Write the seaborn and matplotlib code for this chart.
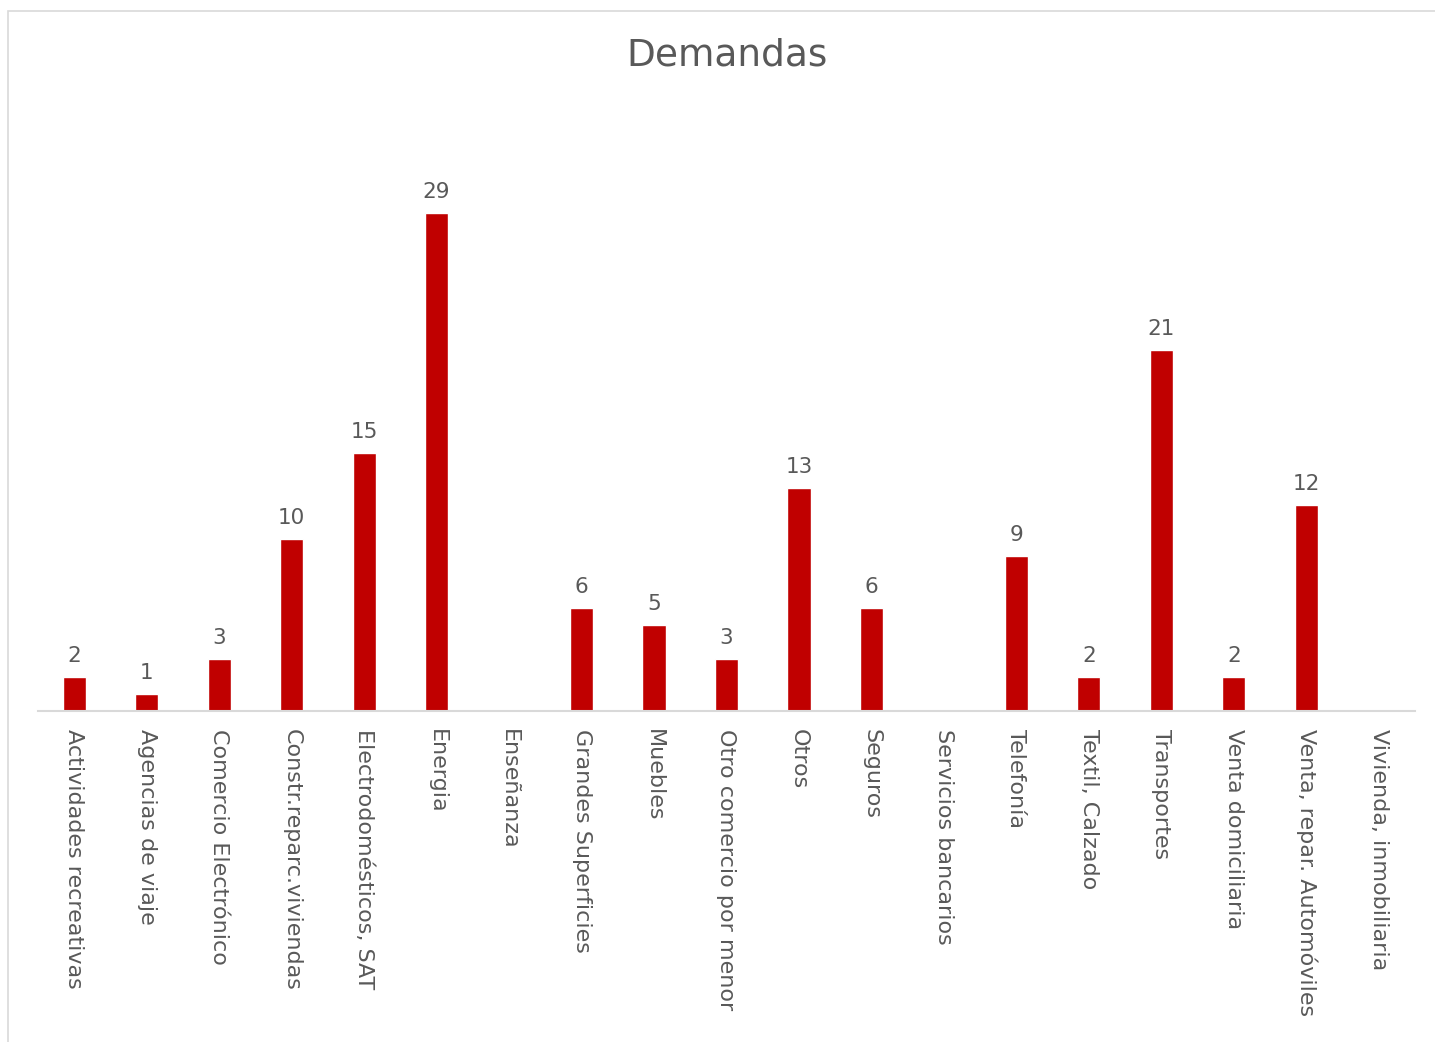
import numpy as np
import pandas as pd
import seaborn as sns
import matplotlib.pyplot as plt
from matplotlib.patches import Rectangle

categories = ['Actividades recreativas', 'Agencias de viaje', 'Comercio Electrónico',
              'Constr.reparc.viviendas', 'Electrodomésticos, SAT', 'Energia', 'Enseñanza',
              'Grandes Superficies', 'Muebles', 'Otro comercio por menor', 'Otros', 'Seguros',
              'Servicios bancarios', 'Telefonía', 'Textil, Calzado', 'Transportes',
              'Venta domiciliaria', 'Venta, repar. Automóviles', 'Vivienda, inmobiliaria']
demandas = [2, 1, 3, 10, 15, 29, None, 6, 5, 3, 13, 6, None, 9, 2, 21, 2, 12, None]

df = pd.DataFrame({'categoria': categories, 'demandas': demandas})
df['demandas'] = df['demandas'].astype(float)
# las categorias vacias se dibujan con altura 0 y sin etiqueta
df['altura'] = df['demandas'].fillna(0)

sns.set_theme(style='white')
plt.rcParams['font.family'] = ['DejaVu Sans']
gris = '#595959'

fig = plt.figure(figsize=(14.35, 10.42), dpi=100)
ax = fig.add_axes([38 / 1435, 1 - 711 / 1042, 1377 / 1435, 601 / 1042])

sns.barplot(data=df, x='categoria', y='altura', color='#C00000', width=0.32,
            saturation=1, ax=ax)

etiquetas = ['' if np.isnan(v) else f'{int(v)}' for v in df['demandas']]
ax.bar_label(ax.containers[0], labels=etiquetas, padding=8, fontsize=15.5, color=gris)

ax.set_xlim(-0.5, len(categories) - 0.5)
ax.set_ylim(0, 35)
ax.set_xlabel('')
ax.set_ylabel('')
ax.set_yticks([])
ax.set_xticks(range(len(categories)))
ax.set_xticklabels(categories, rotation=-90, ha='center', va='top', fontsize=16, color=gris)
ax.tick_params(axis='x', length=0, pad=13)
for lado in ['top', 'right', 'left']:
    ax.spines[lado].set_visible(False)
ax.spines['bottom'].set_color('#D9D9D9')
ax.spines['bottom'].set_linewidth(1.5)

fig.text(727 / 1435, 1 - 56 / 1042, 'Demandas', ha='center', va='center',
         fontsize=27, color=gris)

# borde del area del grafico
fig.patches.append(Rectangle((8 / 1435, -0.05), 1.1, 1.05 - 11 / 1042,
                             transform=fig.transFigure, fill=False,
                             edgecolor='#D9D9D9', linewidth=1.2))

fig.savefig('out.png', dpi=100)
